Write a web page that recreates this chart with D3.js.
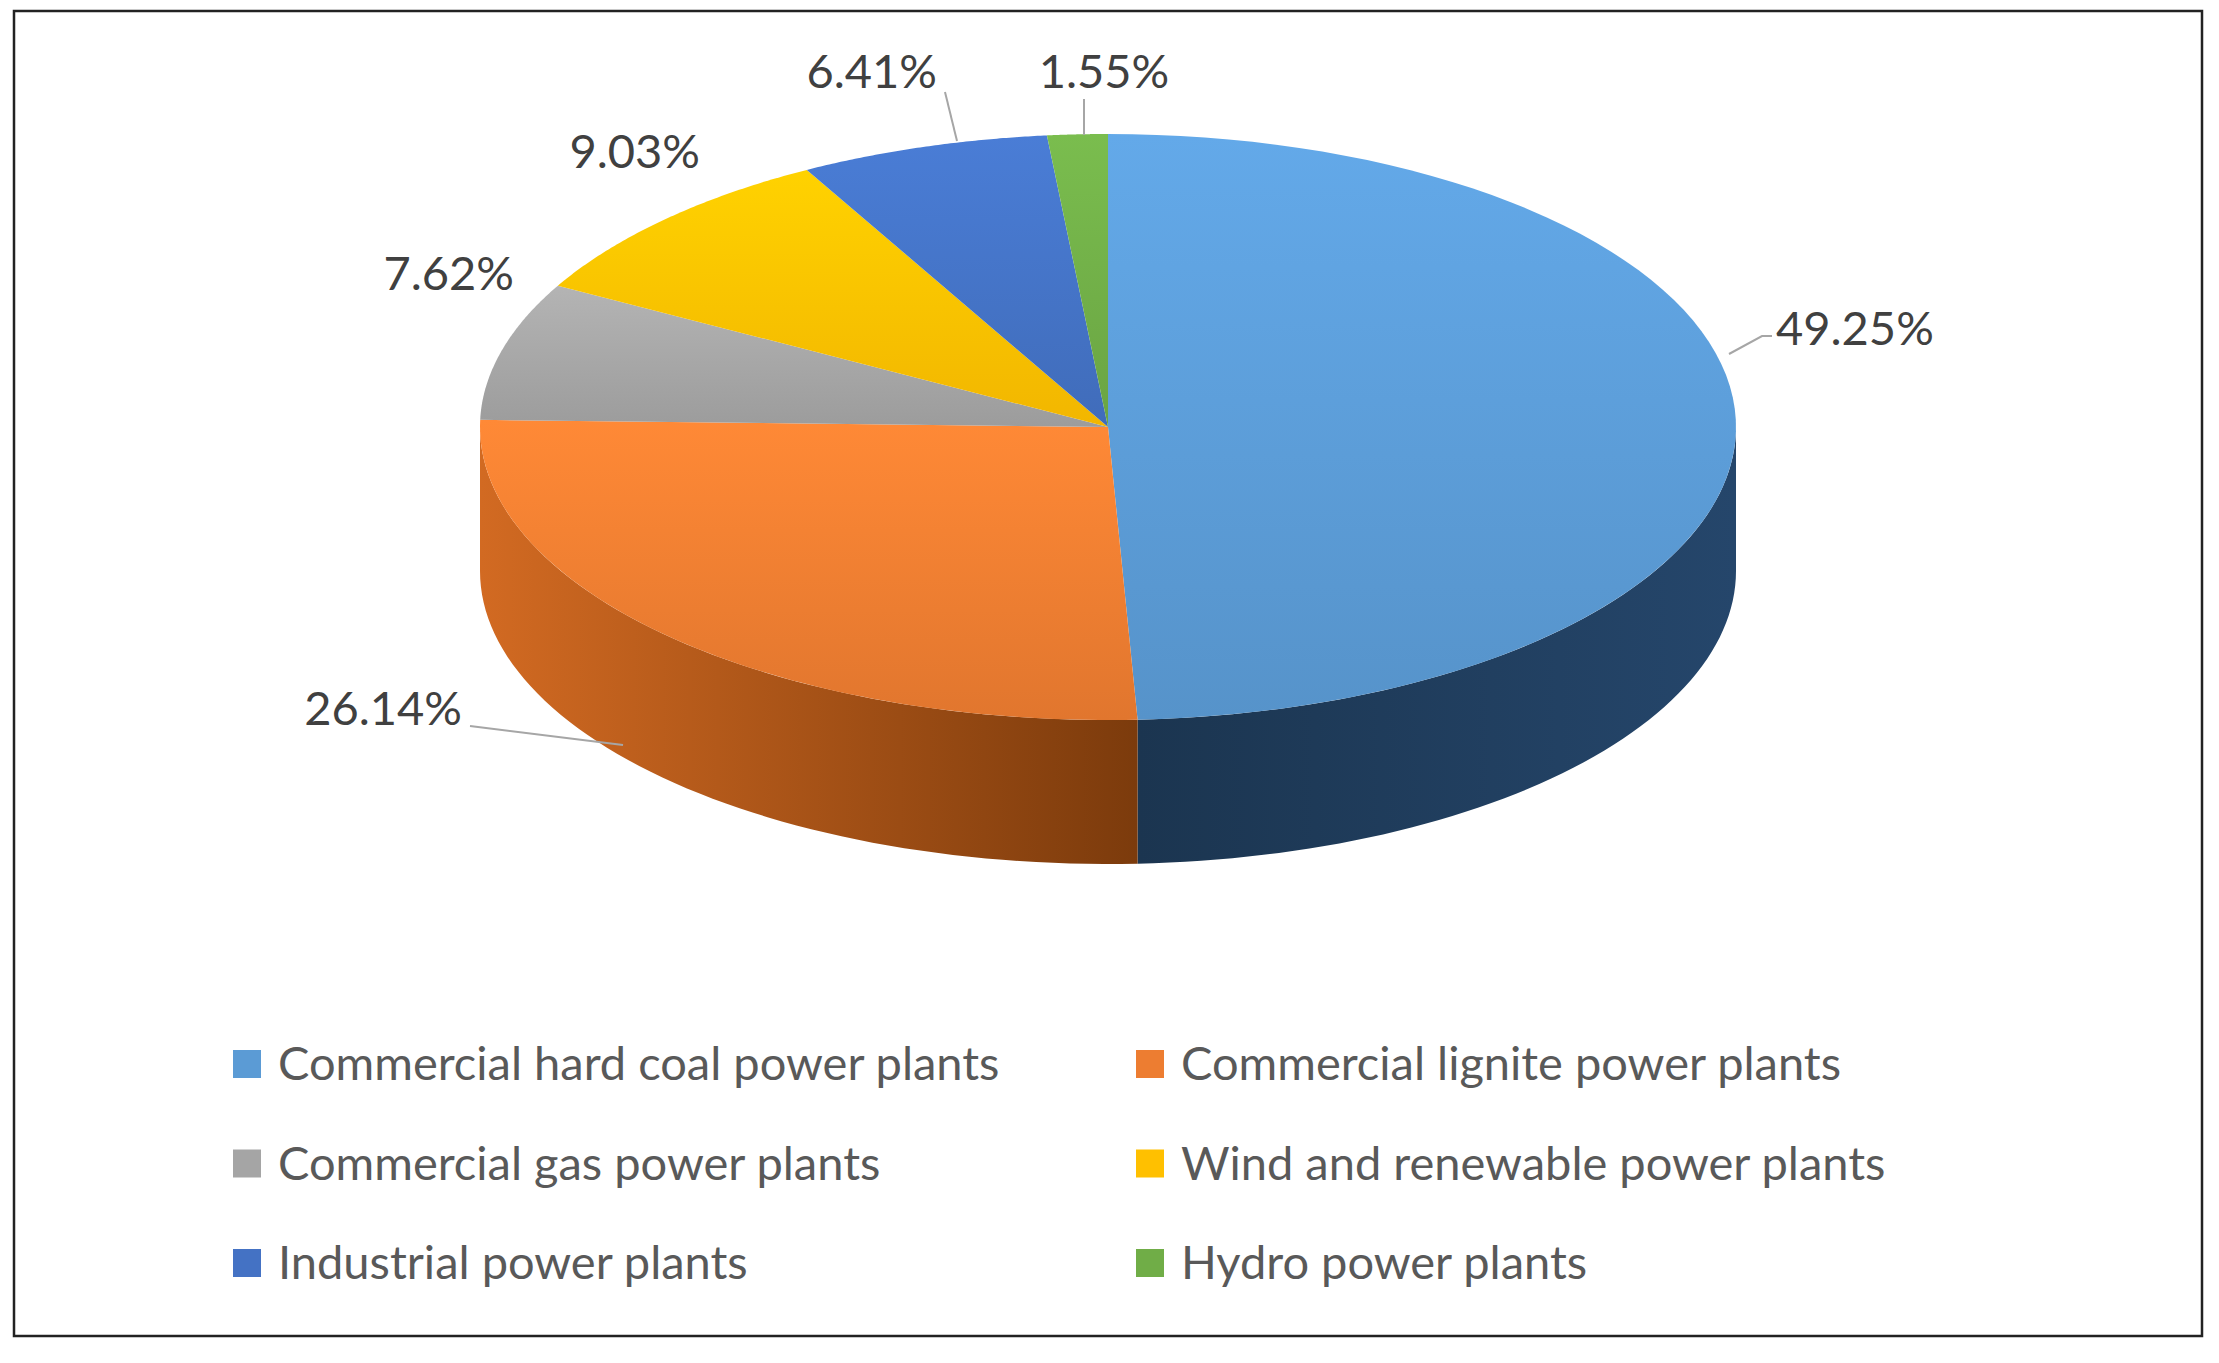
<!DOCTYPE html>
<html><head><meta charset="utf-8">
<script src="https://cdn.jsdelivr.net/npm/d3@7"></script>
<style>body{margin:0;background:#fff}</style>
</head><body>
<svg id="chart" width="2219" height="1363"></svg>
<script>
const categories = ["Commercial hard coal power plants", "Commercial lignite power plants", "Commercial gas power plants", "Wind and renewable power plants", "Industrial power plants", "Hydro power plants"]
const shares = [49.25, 26.14, 7.62, 9.03, 6.41, 1.55]
const colors = ["#5b9bd5", "#ed7d31", "#a5a5a5", "#ffc000", "#4472c4", "#70ad47"]
const wallColors = [["#25466b", "#1b3550"], ["#d26a22", "#7c3b0c"], ["#7f7f7f", "#666"], ["#c79500", "#a07800"], ["#2f5597", "#203d70"], ["#4e7d31", "#3b5f25"]]

const svg = d3.select("#chart")
const cx = 1108, cy = 427, rx = 628, ry = 293, depth = 144
const font = "Lato, 'Open Sans', sans-serif"

svg.append("rect").attr("x", 14).attr("y", 11).attr("width", 2188).attr("height", 1325)
    .attr("fill", "#fff").attr("stroke", "#222").attr("stroke-width", 2.5)

const pie = d3.pie().sort(null).startAngle(0).endAngle(2 * Math.PI)
const arcs = pie(shares)
const pt = (a, dy = 0) => [cx + rx * Math.sin(a), cy - ry * Math.cos(a) + dy]
const defs = svg.append("defs")

// side walls
arcs.forEach((d, i) => {
    const a0 = Math.max(d.startAngle, Math.PI / 2), a1 = Math.min(d.endAngle, 3 * Math.PI / 2)
    if (a1 <= a0) return
    const steps = d3.range(0, 61).map(k => a0 + (a1 - a0) * k / 60)
    const top = steps.map(a => pt(a)), bot = steps.map(a => pt(a, depth)).reverse()
    const xs = top.map(p => p[0])
    const g = defs.append("linearGradient").attr("id", "wall" + i).attr("gradientUnits", "userSpaceOnUse")
        .attr("x1", d3.min(xs)).attr("x2", d3.max(xs)).attr("y1", 0).attr("y2", 0)
    const c = i === 0 ? [wallColors[i][1], wallColors[i][0]] : wallColors[i]
    g.append("stop").attr("offset", "0%").attr("stop-color", c[0])
    g.append("stop").attr("offset", "100%").attr("stop-color", c[1])
    svg.append("path").attr("d", "M" + top.concat(bot).map(p => p.join(",")).join("L") + "Z")
        .attr("fill", `url(#wall${i})`)
})

// top faces
arcs.forEach((d, i) => {
    const steps = d3.range(0, 81).map(k => d.startAngle + (d.endAngle - d.startAngle) * k / 80)
    const g = defs.append("linearGradient").attr("id", "top" + i).attr("x1", 0).attr("y1", 0).attr("x2", 0).attr("y2", 1)
    g.append("stop").attr("offset", "0%").attr("stop-color", d3.color(colors[i]).brighter(0.25))
    g.append("stop").attr("offset", "100%").attr("stop-color", d3.color(colors[i]).darker(0.15))
    svg.append("path").attr("d", "M" + cx + "," + cy + "L" + steps.map(a => pt(a).join(",")).join("L") + "Z")
        .attr("fill", `url(#top${i})`)
})

// labels
const labelPos = [
    { x: 1776, y: 345, anchor: "start", line: [[1729, 354], [1762, 336], [1772, 336]] },
    { x: 462, y: 725, anchor: "end", line: [[470, 726], [623, 745]] },
    { x: 514, y: 290, anchor: "end", line: null },
    { x: 700, y: 168, anchor: "end", line: null },
    { x: 937, y: 88, anchor: "end", line: [[945, 92], [957, 141]] },
    { x: 1104, y: 88, anchor: "middle", line: [[1084, 99], [1084, 135]] }
]
shares.forEach((v, i) => {
    const l = labelPos[i]
    if (l.line) svg.append("path").attr("d", d3.line()(l.line)).attr("fill", "none").attr("stroke", "#a6a6a6").attr("stroke-width", 2)
    svg.append("text").attr("x", l.x).attr("y", l.y).attr("text-anchor", l.anchor)
        .attr("font-family", font).attr("font-size", 47).attr("fill", "#404040").text(v.toFixed(2) + "%")
})

// legend
const legend = svg.append("g")
categories.forEach((c, i) => {
    const col = i % 2, row = Math.floor(i / 2)
    const x = col === 0 ? 233 : 1136, y = 1064 + row * 99.5
    legend.append("rect").attr("x", x).attr("y", y - 14).attr("width", 28).attr("height", 28).attr("fill", colors[i])
    legend.append("text").attr("x", x + 45).attr("y", y + 16).attr("font-family", font).attr("font-size", 47)
        .attr("fill", "#595959").text(c)
})
</script>
</body></html>
